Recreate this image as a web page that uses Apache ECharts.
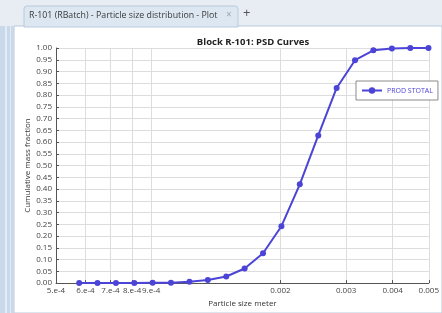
<!DOCTYPE html>
<html>
<head>
<meta charset="utf-8">
<script src="https://cdn.jsdelivr.net/npm/echarts@6/dist/echarts.min.js"></script>
<style>
html, body { margin: 0; padding: 0; background: #e8edf3; }
#main { width: 442px; height: 313px; }
</style>
</head>
<body>
<div id="main"></div>
<script>
// particle size (m) and cumulative mass fraction
var sizes = [5.77e-4, 6.46e-4, 7.24e-4, 8.11e-4, 9.08e-4, 1.017e-3, 1.14e-3, 1.277e-3, 1.431e-3, 1.603e-3,
    1.796e-3, 2.012e-3, 2.254e-3, 2.526e-3, 2.83e-3, 3.17e-3, 3.55e-3, 3.98e-3, 4.46e-3, 4.99e-3];
var fractions = [0.0, 0.0, 0.0, 0.0, 0.001, 0.002, 0.006, 0.013, 0.028, 0.062,
    0.127, 0.242, 0.42, 0.628, 0.83, 0.948, 0.99, 0.998, 1.0, 1.0];
var xTicks = [5e-4, 6e-4, 7e-4, 8e-4, 9e-4, 0.002, 0.003, 0.004, 0.005];
var seriesName = 'PROD STOTAL';

var dom = document.getElementById('main');
var myChart = echarts.init(dom);
var lineColor = '#4b44d6';

function fmtSize(v) {
    if (v < 1e-3) {
        return Math.round(v * 1e4) + '.e-4';
    }
    return v.toFixed(3);
}

var points = sizes.map(function (s, i) { return [s, fractions[i]]; });

option = {
    backgroundColor: '#e8edf3',
    textStyle: { fontFamily: 'Open Sans' },
    graphic: [
        // content panel
        { type: 'rect', shape: { x: 14, y: 26, width: 428, height: 287 }, style: { fill: '#ffffff', stroke: '#b9c9dc' }, z: -10 },
        // left strip
        { type: 'rect', shape: { x: 0, y: 26, width: 14, height: 287 }, style: { fill: '#c9d9ea' }, z: -10 },
        { type: 'rect', shape: { x: 5, y: 26, width: 2, height: 287 }, style: { fill: '#e3ecf6' }, z: -9 },
        { type: 'rect', shape: { x: 10, y: 26, width: 1, height: 287 }, style: { fill: '#e3ecf6' }, z: -9 },
        // tab
        { type: 'rect', shape: { x: 24, y: 6, width: 214, height: 21, r: [3, 3, 0, 0] }, style: { fill: '#dde7f2', stroke: '#b9c9dc' }, z: -8 },
        { type: 'text', left: 29, top: 11, style: { text: 'R-101 (RBatch) - Particle size distribution - Plot', fontSize: 8.8, fill: '#3a3a3a', fontFamily: 'Open Sans' } },
        { type: 'text', left: 226, top: 10, style: { text: '×', fontSize: 10, fill: '#9aa6b2', fontFamily: 'Open Sans' } },
        { type: 'text', left: 243, top: 7, style: { text: '+', fontSize: 13, fill: '#555555', fontFamily: 'Open Sans' } }
    ],
    title: {
        text: 'Block R-101: PSD Curves',
        left: 248,
        textAlign: 'center',
        top: 32,
        textStyle: { fontSize: 9.5, fontWeight: 'bold', color: '#222222', fontFamily: 'Open Sans' }
    },
    legend: {
        left: 356,
        top: 81,
        orient: 'vertical',
        backgroundColor: '#ffffff',
        borderColor: '#8a8a8a',
        borderWidth: 1,
        padding: [6, 5],
        itemWidth: 20,
        itemHeight: 8,
        itemGap: 4,
        textStyle: { fontSize: 7, color: lineColor, fontFamily: 'Open Sans' },
        data: [seriesName]
    },
    grid: {
        left: 56,
        right: 6,
        top: 48,
        bottom: 27
    },
    xAxis: {
        type: 'log',
        logBase: 10,
        min: 5e-4,
        max: 5e-3,
        name: 'Particle size meter',
        nameLocation: 'middle',
        nameGap: 15,
        nameTextStyle: { fontSize: 8, color: '#333333' },
        axisLine: { lineStyle: { color: '#555555' } },
        axisTick: { show: true, length: 3, inside: true, customValues: xTicks, lineStyle: { color: '#555555' } },
        axisLabel: {
            customValues: xTicks,
            fontSize: 8,
            color: '#444444',
            margin: 4,
            hideOverlap: false,
            formatter: function (v) { return fmtSize(v); }
        },
        splitLine: { show: true, lineStyle: { color: '#dddddd' } },
        minorTick: { show: false }
    },
    yAxis: {
        type: 'value',
        min: 0,
        max: 1,
        interval: 0.05,
        name: 'Cumulative mass fraction',
        nameLocation: 'middle',
        nameGap: 24,
        nameMoveOverlap: false,
        nameTextStyle: { fontSize: 8, color: '#333333' },
        axisLine: { show: true, lineStyle: { color: '#555555' } },
        axisTick: { show: true, inside: true, length: 3, lineStyle: { color: '#555555' } },
        axisLabel: {
            fontSize: 8,
            color: '#444444',
            margin: 4,
            formatter: function (v) { return v.toFixed(2); }
        },
        splitLine: { show: true, lineStyle: { color: '#dddddd' } }
    },
    series: [{
        name: seriesName,
        type: 'line',
        data: points,
        symbol: 'circle',
        symbolSize: 6,
        lineStyle: { color: lineColor, width: 2 },
        itemStyle: { color: lineColor },
        animation: false
    }]
};

if (option && typeof option === 'object') {
    myChart.setOption(option, true);
}
</script>
</body>
</html>
